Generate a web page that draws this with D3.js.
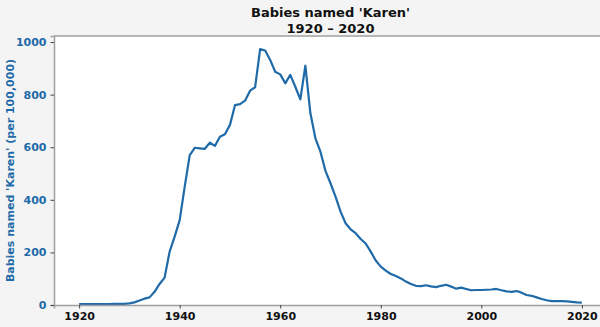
<!DOCTYPE html>
<html>
  <head>
    <meta charset="utf-8">
    <script src="https://d3js.org/d3.v7.min.js"></script>
    <style>
      body { margin: 0; background: #f4f4f4; }
      svg { display: block; font-family: "DejaVu Sans", sans-serif; }
    </style>
  </head>
  <body>
    <svg id="chart" width="600" height="327"></svg>
    <script>
      // babies named Karen per 100,000
      var years = d3.range(1920, 2021);
      var values = [
        3, 3, 3, 3, 3, 3, 3, 4, 4, 4,
        6, 10, 17, 24, 29, 50, 80, 104, 203, 260,
        323, 450, 570, 598, 596, 594, 617, 605, 640, 649,
        685, 760, 764, 777, 815, 828, 973, 968, 932, 887,
        877, 843, 875, 830, 782, 910, 729, 634, 583, 510,
        463, 412, 355, 311, 288, 273, 251, 234, 203, 169,
        146, 131, 118, 110, 101, 89, 80, 73, 72, 75,
        71, 68, 73, 77, 70, 62, 66, 61, 56, 57,
        57, 58, 59, 61, 56, 52, 50, 53, 47, 38,
        35, 29, 23, 18, 15, 15, 15, 14, 12, 10,
        9
      ];
      var xTicks = [1920, 1940, 1960, 1980, 2000, 2020];
      var yTicks = [0, 200, 400, 600, 800, 1000];

      var svg = d3.select("#chart");
      var margin = {left: 54, top: 36, right: 607, bottom: 305};
      var blue = "#1f6aa8";

      var x = d3.scaleLinear().domain([1915, 2025]).range([margin.left, margin.right]);
      var y = d3.scaleLinear().domain([0, 1023]).range([margin.bottom, margin.top]);

      svg.append("rect")
          .attr("x", margin.left).attr("y", margin.top)
          .attr("width", margin.right - margin.left)
          .attr("height", margin.bottom - margin.top)
          .attr("fill", "#fff");

      var line = d3.line()
          .x(function(d, i) { return x(years[i]); })
          .y(function(d) { return y(d); });

      svg.append("path")
          .datum(values)
          .attr("d", line)
          .attr("fill", "none")
          .attr("stroke", blue)
          .attr("stroke-width", 2.2)
          .attr("stroke-linejoin", "round");

      // spines
      svg.append("line")
          .attr("x1", margin.left).attr("x2", margin.right)
          .attr("y1", margin.top).attr("y2", margin.top)
          .attr("stroke", "#a0a0a0").attr("stroke-width", 1.5);

      var xAxis = svg.append("g")
          .attr("transform", "translate(0," + margin.bottom + ")")
          .call(d3.axisBottom(x).tickValues(xTicks).tickFormat(d3.format("d")).tickSize(3.5).tickPadding(4));
      var yAxis = svg.append("g")
          .attr("transform", "translate(" + margin.left + ",0)")
          .call(d3.axisLeft(y).tickValues(yTicks).tickFormat(d3.format("d")).tickSize(3.5).tickPadding(4));

      [xAxis, yAxis].forEach(function(a) {
        a.select(".domain").attr("stroke", "#a0a0a0").attr("stroke-width", 1.5);
        a.selectAll(".tick line").attr("stroke", "#444");
        a.selectAll("text").attr("font-size", "11px").attr("font-weight", "bold")
            .attr("font-family", "DejaVu Sans, sans-serif");
      });
      xAxis.selectAll("text").attr("fill", "#111");
      yAxis.selectAll("text").attr("fill", blue);

      svg.append("text")
          .attr("transform", "translate(14," + ((margin.top + margin.bottom) / 2) + ") rotate(-90)")
          .attr("text-anchor", "middle")
          .attr("font-size", "11px").attr("font-weight", "bold")
          .attr("fill", blue)
          .text("Babies named 'Karen' (per 100,000)");

      var title = svg.append("text")
          .attr("text-anchor", "middle")
          .attr("font-size", "13px").attr("font-weight", "bold")
          .attr("fill", "#111");
      var cx = (margin.left + margin.right) / 2;
      title.append("tspan").attr("x", cx).attr("y", 17).text("Babies named 'Karen'");
      title.append("tspan").attr("x", cx).attr("y", 33).text("1920 \u2013 2020");
    </script>
  </body>
</html>
